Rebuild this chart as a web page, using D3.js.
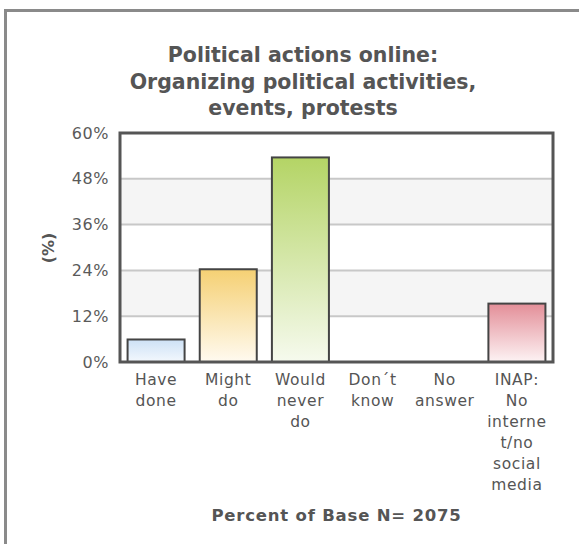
<!DOCTYPE html>
<html>
<head>
<meta charset="utf-8">
<script src="https://cdn.jsdelivr.net/npm/d3@7"></script>
<style>
  body { margin: 0; background: #fff; }
  svg { display: block; font-family: Verdana, 'DejaVu Sans', sans-serif; }
</style>
</head>
<body>
<div id="wrapper"></div>
<script>
// Data
const categories = ['Have done', 'Might do', 'Would never do', 'Don´t know', 'No answer', 'INAP: No internet/no social media'];
const categoryLines = [
  ['Have', 'done'],
  ['Might', 'do'],
  ['Would', 'never', 'do'],
  ['Don´t', 'know'],
  ['No', 'answer'],
  ['INAP:', 'No', 'interne', 't/no', 'social', 'media'],
];
const values = [5.9, 24.3, 53.6, 0, 0, 15.3];
const yTicks = [0, 12, 24, 36, 48, 60];
const titleLines = ['Political actions online:', 'Organizing political activities,', 'events, protests'];
const footer = 'Percent of Base N= 2075';
const barColors = [
  ['#cde1f6', '#f3f8fd'],
  ['#f5d073', '#fffaf0'],
  ['#b4d465', '#f6faee'],
  ['#cccccc', '#ffffff'],
  ['#cccccc', '#ffffff'],
  ['#e38e98', '#fdf3f4'],
];

const dimensions = {
  width: 579,
  height: 544,
  margin: { top: 133, right: 26, bottom: 182, left: 120 },
};
dimensions.boundedWidth = dimensions.width - dimensions.margin.left - dimensions.margin.right;
dimensions.boundedHeight = dimensions.height - dimensions.margin.top - dimensions.margin.bottom;

const xScale = d3.scaleBand()
  .domain(categories)
  .range([0, dimensions.boundedWidth])
  .paddingInner(0.21)
  .paddingOuter(0.105);

const yScale = d3.scaleLinear()
  .domain([0, 60])
  .range([dimensions.boundedHeight, 0]);

const svg = d3.select('#wrapper')
  .append('svg')
  .attr('width', dimensions.width)
  .attr('height', dimensions.height);

// outer frame (runs off the right and bottom edges)
svg.append('rect')
  .attr('x', 5.5).attr('y', 10.5)
  .attr('width', 600).attr('height', 600)
  .attr('fill', 'none')
  .attr('stroke', '#8a8a8a')
  .attr('stroke-width', 3);

// gradients
const defs = svg.append('defs');
barColors.forEach((c, i) => {
  const g = defs.append('linearGradient')
    .attr('id', 'grad' + i)
    .attr('x1', 0).attr('y1', 0).attr('x2', 0).attr('y2', 1);
  g.append('stop').attr('offset', '0%').attr('stop-color', c[0]);
  g.append('stop').attr('offset', '100%').attr('stop-color', c[1]);
});

// title
svg.append('text')
  .attr('text-anchor', 'middle')
  .attr('font-weight', 'bold')
  .attr('font-size', 20.5)
  .attr('fill', '#555')
  .selectAll('tspan')
  .data(titleLines)
  .join('tspan')
  .attr('x', 303)
  .attr('y', (d, i) => 62 + i * 26.5)
  .text(d => d);

const bounds = svg.append('g')
  .attr('transform', `translate(${dimensions.margin.left}, ${dimensions.margin.top})`);

// alternating bands
const bands = d3.pairs(yTicks);
bounds.selectAll('.band')
  .data(bands)
  .join('rect')
  .attr('class', 'band')
  .attr('x', 0)
  .attr('width', dimensions.boundedWidth)
  .attr('y', d => yScale(d[1]))
  .attr('height', d => yScale(d[0]) - yScale(d[1]))
  .attr('fill', (d, i) => i % 2 === 1 ? '#f5f5f5' : '#ffffff');

// gridlines
bounds.selectAll('.grid')
  .data(yTicks.slice(1, -1))
  .join('line')
  .attr('x1', 0).attr('x2', dimensions.boundedWidth)
  .attr('y1', d => yScale(d)).attr('y2', d => yScale(d))
  .attr('stroke', '#c8c8c8')
  .attr('stroke-width', 2);

// y axis
const yAxis = d3.axisLeft(yScale)
  .tickValues(yTicks)
  .tickSize(0)
  .tickPadding(11)
  .tickFormat(d => d + '%');
bounds.append('g')
  .call(yAxis)
  .call(g => g.select('.domain').remove())
  .call(g => g.selectAll('text')
    .attr('font-size', 16)
    .attr('letter-spacing', 0.6)
    .attr('fill', '#5a5a5a')
    .attr('font-family', "Verdana, 'DejaVu Sans', sans-serif"));

// y axis label
svg.append('text')
  .attr('transform', 'translate(54, 248) rotate(-90)')
  .attr('text-anchor', 'middle')
  .attr('font-weight', 'bold')
  .attr('font-size', 16)
  .attr('fill', '#555')
  .text('(%)');

// bars
bounds.selectAll('.bar')
  .data(values)
  .join('rect')
  .attr('class', 'bar')
  .attr('x', (d, i) => xScale(categories[i]))
  .attr('width', xScale.bandwidth())
  .attr('y', d => yScale(d))
  .attr('height', d => dimensions.boundedHeight - yScale(d))
  .attr('fill', (d, i) => `url(#grad${i})`)
  .attr('stroke', (d) => d > 0 ? '#444' : 'none')
  .attr('stroke-width', 2);

// plot frame
bounds.append('rect')
  .attr('x', 0).attr('y', 0)
  .attr('width', dimensions.boundedWidth)
  .attr('height', dimensions.boundedHeight)
  .attr('fill', 'none')
  .attr('stroke', '#555')
  .attr('stroke-width', 3);

// x labels
const xLabels = bounds.append('g')
  .attr('transform', `translate(0, ${dimensions.boundedHeight})`);
categories.forEach((c, i) => {
  xLabels.append('text')
    .attr('text-anchor', 'middle')
    .attr('font-size', 15.5)
    .attr('letter-spacing', 0.6)
    .attr('fill', '#555')
    .selectAll('tspan')
    .data(categoryLines[i])
    .join('tspan')
    .attr('x', xScale(c) + xScale.bandwidth() / 2)
    .attr('y', (d, j) => 23 + j * 21)
    .text(d => d);
});

// footer
svg.append('text')
  .attr('x', dimensions.margin.left + dimensions.boundedWidth / 2)
  .attr('y', 521)
  .attr('text-anchor', 'middle')
  .attr('font-weight', 'bold')
  .attr('font-size', 16.5)
  .attr('letter-spacing', 0.8)
  .attr('fill', '#555')
  .text(footer);
</script>
</body>
</html>
